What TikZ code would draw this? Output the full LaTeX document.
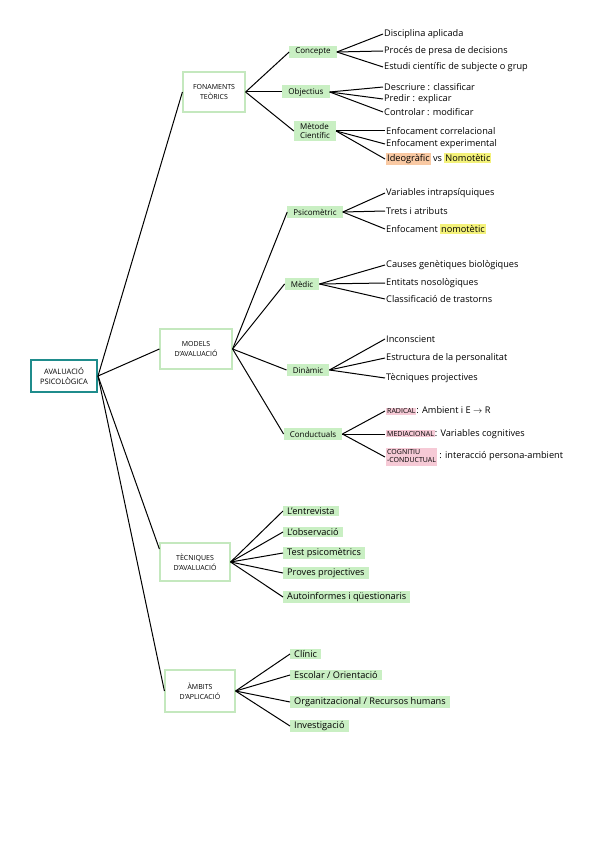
\documentclass[tikz,border=0pt]{standalone}
\usepackage{fontspec}
\setmainfont{Open Sans}
\usepackage{tikz}
\usetikzlibrary{positioning}
\definecolor{mmTeal}{HTML}{1F8C8C}
\definecolor{mmBoxLine}{HTML}{C4E8BE}
\definecolor{mmGreen}{HTML}{C9EFC3}
\definecolor{mmYellow}{HTML}{F4F27A}
\definecolor{mmOrange}{HTML}{F9C9A3}
\definecolor{mmPink}{HTML}{F6CAD6}
\newcommand{\marca}[2]{{\setlength{\fboxsep}{1pt}\colorbox{#1}{#2}}}

\begin{document}
\begin{tikzpicture}[x=1pt,y=-1pt,
 root/.style={draw=mmTeal,line width=2pt,minimum width=66pt,minimum height=32pt,
   align=center,font=\fontsize{7.5}{10}\selectfont},
 topic/.style={draw=mmBoxLine,line width=1.2pt,fill=white,minimum height=40pt,
   align=center,font=\fontsize{7}{10}\selectfont},
 sub/.style={fill=mmGreen,inner xsep=6pt,inner ysep=2.5pt,align=left,
   font=\fontsize{8}{9.5}\selectfont},
 leaf/.style={anchor=west,inner sep=1pt,font=\fontsize{9.2}{10.5}\selectfont},
 hleaf/.style={leaf,fill=mmGreen,inner xsep=4pt,inner ysep=1.5pt},
 link/.style={line width=1pt,draw=black}]
\useasboundingbox[fill=white] (0,0) rectangle (599,848);
\node[root] (root) at (64,376) {AVALUACIÓ\\PSICOLÒGICA};
\node[topic,minimum width=62pt] (fon) at (214,92) {FONAMENTS\\TEÒRICS};
\node[topic,minimum width=72pt] (mod) at (196,349) {MODELS\\D'AVALUACIÓ};
\node[topic,minimum width=70pt,minimum height=38pt] (tec) at (195,562) {TÈCNIQUES\\D'AVALUACIÓ};
\node[topic,minimum width=70pt,minimum height=42pt] (amb) at (200,691) {ÀMBITS\\D'APLICACIÓ};
\draw[link] (root.east) -- (fon.west);
\draw[link] (root.east) -- (mod.west);
\draw[link] (root.east) -- (tec.160);
\draw[link] (root.east) -- (amb.west);

\node[sub] (concepte) at (313,52) {Concepte};
\node[sub] (objectius) at (306,92) {Objectius};
\node[sub] (metode) at (315,131) {Mètode\\Científic};
\draw[link] (fon.east) -- (concepte.west);
\draw[link] (fon.east) -- (objectius.west);
\draw[link] (fon.east) -- (metode.west);

\node[leaf] (con1) at (383,34) {Disciplina aplicada};
\node[leaf] (con2) at (383,51) {Procés de presa de decisions};
\node[leaf] (con3) at (383,67) {Estudi científic de subjecte o grup};
\draw[link] (concepte.east) -- (con1.west);
\draw[link] (concepte.east) -- (con2.west);
\draw[link] (concepte.east) -- (con3.west);

\node[leaf] (obj1) at (383,87) {Descriure : classificar};
\node[leaf] (obj2) at (383,99) {Predir : explicar};
\node[leaf] (obj3) at (383,112) {Controlar : modificar};
\draw[link] (objectius.east) -- (obj1.west);
\draw[link] (objectius.east) -- (obj2.west);
\draw[link] (objectius.east) -- (obj3.west);

\node[leaf] (met1) at (385,131) {Enfocament correlacional};
\node[leaf] (met2) at (385,144) {Enfocament experimental};
\node[leaf] (met3) at (385,159) {\marca{mmOrange}{Ideogràfic} vs \marca{mmYellow}{Nomotètic}};
\draw[link] (metode.east) -- (met1.west);
\draw[link] (metode.east) -- (met2.west);
\draw[link] (metode.east) -- (met3.west);

\node[sub] (psico) at (315,212) {Psicomètric};
\node[sub] (medic) at (302,284) {Mèdic};
\node[sub] (dinamic) at (308,370) {Dinàmic};
\node[sub] (conduct) at (313,434) {Conductuals};
\draw[link] (mod.east) -- (psico.west);
\draw[link] (mod.east) -- (medic.west);
\draw[link] (mod.east) -- (dinamic.west);
\draw[link] (mod.east) -- (conduct.west);

\node[leaf] (psi1) at (385,193) {Variables intrapsíquiques};
\node[leaf] (psi2) at (385,211) {Trets i atributs};
\node[leaf] (psi3) at (385,229) {Enfocament \marca{mmYellow}{nomotètic}};
\draw[link] (psico.east) -- (psi1.west);
\draw[link] (psico.east) -- (psi2.west);
\draw[link] (psico.east) -- (psi3.west);

\node[leaf] (med1) at (385,265) {Causes genètiques biològiques};
\node[leaf] (med2) at (385,283) {Entitats nosològiques};
\node[leaf] (med3) at (385,299) {Classificació de trastorns};
\draw[link] (medic.east) -- (med1.west);
\draw[link] (medic.east) -- (med2.west);
\draw[link] (medic.east) -- (med3.west);

\node[leaf] (din1) at (385,339) {Inconscient};
\node[leaf] (din2) at (385,358) {Estructura de la personalitat};
\node[leaf] (din3) at (385,378) {Tècniques projectives};
\draw[link] (dinamic.east) -- (din1.west);
\draw[link] (dinamic.east) -- (din2.west);
\draw[link] (dinamic.east) -- (din3.west);

\node[leaf] (cnd1) at (385,411) {\marca{mmPink}{\fontsize{7}{8}\selectfont RADICAL}: Ambient i E $\rightarrow$ R};
\node[leaf] (cnd2) at (385,434) {\marca{mmPink}{\fontsize{7}{8}\selectfont MEDIACIONAL}: Variables cognitives};
\node[leaf] (cnd3) at (385,457) {\marca{mmPink}{\fontsize{7}{8}\selectfont\begin{tabular}{@{}l@{}}COGNITIU\\-CONDUCTUAL\end{tabular}} : interacció persona-ambient};
\draw[link] (conduct.east) -- (cnd1.west);
\draw[link] (conduct.east) -- (cnd2.west);
\draw[link] (conduct.east) -- (cnd3.west);

\node[hleaf] (tec1) at (283,511) {L'entrevista};
\node[hleaf] (tec2) at (283,532) {L'observació};
\node[hleaf] (tec3) at (283,553) {Test psicomètrics};
\node[hleaf] (tec4) at (283,573) {Proves projectives};
\node[hleaf] (tec5) at (283,597) {Autoinformes i qüestionaris};
\draw[link] (tec.east) -- (tec1.west);
\draw[link] (tec.east) -- (tec2.west);
\draw[link] (tec.east) -- (tec3.west);
\draw[link] (tec.east) -- (tec4.west);
\draw[link] (tec.east) -- (tec5.west);

\node[hleaf] (amb1) at (290,654) {Clínic};
\node[hleaf] (amb2) at (290,675) {Escolar / Orientació};
\node[hleaf] (amb3) at (290,702) {Organitzacional / Recursos humans};
\node[hleaf] (amb4) at (290,726) {Investigació};
\draw[link] (amb.east) -- (amb1.west);
\draw[link] (amb.east) -- (amb2.west);
\draw[link] (amb.east) -- (amb3.west);
\draw[link] (amb.east) -- (amb4.west);
\end{tikzpicture}
\end{document}
